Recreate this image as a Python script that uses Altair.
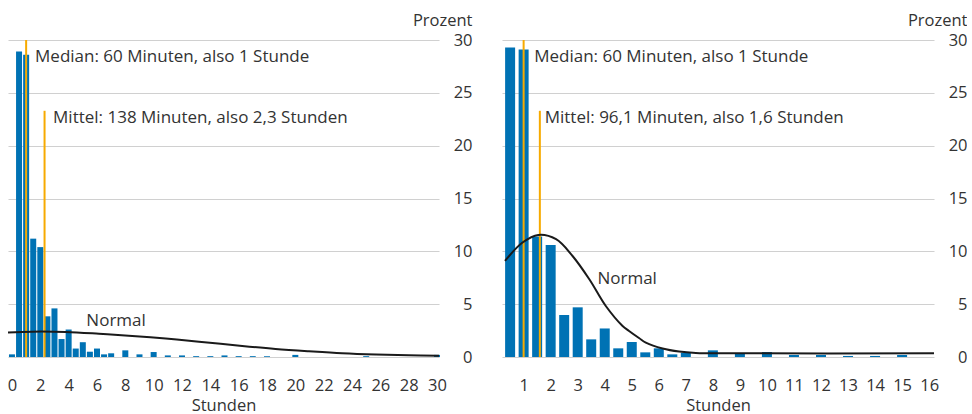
import altair as alt
import pandas as pd

# ---------------- data ----------------
# left panel: hours (bin centres) and percent
left_hours = [0, 0.5, 1, 1.5, 2, 2.5, 3, 3.5, 4, 4.5, 5, 5.5, 6, 6.5, 7,
              8, 9, 10, 11, 12, 13, 14, 15, 16, 17, 18, 20, 25, 30]
left_pct = [0.25, 28.9, 28.6, 11.2, 10.4, 3.85, 4.6, 1.7, 2.6, 0.8, 1.4, 0.5, 0.8, 0.25, 0.35,
            0.63, 0.25, 0.47, 0.15, 0.15, 0.08, 0.08, 0.15, 0.08, 0.08, 0.08, 0.2, 0.08, 0.2]
left_curve_h = [-0.28, 1.43, 3.79, 6.14, 8.49, 10.85, 13.2, 16.25, 18.6, 20.96, 23.3, 25.7, 28.0, 30.14]
left_curve_v = [2.33, 2.4, 2.37, 2.2, 1.99, 1.74, 1.45, 1.04, 0.76, 0.54, 0.35, 0.23, 0.16, 0.13]
left_rule_h = [1.0, 2.3]
left_rule_top = [30, 23.3]
left_text = ["Median: 60 Minuten, also 1 Stunde", "Mittel: 138 Minuten, also 2,3 Stunden", "Normal"]
left_text_h = [1.63, 2.9, 5.25]
left_text_v = [27.9, 22.1, 2.94]
left_ticks = [0, 2, 4, 6, 8, 10, 12, 14, 16, 18, 20, 22, 24, 26, 28, 30]

# right panel
right_hours = [0.5, 1, 1.5, 2, 2.5, 3, 3.5, 4, 4.5, 5, 5.5, 6, 6.5, 7,
               8, 9, 10, 11, 12, 13, 14, 15]
right_pct = [29.3, 29.1, 11.4, 10.6, 3.98, 4.7, 1.67, 2.7, 0.82, 1.42, 0.44, 0.82, 0.25, 0.4,
             0.63, 0.35, 0.47, 0.19, 0.19, 0.1, 0.1, 0.19]
right_curve_h = [0.31, 0.96, 1.54, 2.2, 2.81, 3.43, 4.04, 4.66, 4.9, 5.28, 5.52, 6.14, 6.75, 7.37, 8.6, 16.18]
right_curve_v = [9.09, 10.83, 11.55, 11.15, 9.56, 7.36, 4.83, 2.94, 2.46, 1.77, 1.36, 0.8, 0.51, 0.38, 0.35, 0.35]
right_rule_h = [1.0, 1.6]
right_rule_top = [30, 23.3]
right_text = ["Median: 60 Minuten, also 1 Stunde", "Mittel: 96,1 Minuten, also 1,6 Stunden", "Normal"]
right_text_h = [1.39, 1.78, 3.73]
right_text_v = [27.9, 22.1, 6.95]
right_ticks = list(range(1, 17))

y_ticks = [0, 5, 10, 15, 20, 25, 30]

# ---------------- styling ----------------
FONT = "Open Sans"
BLUE = "#0072b4"
ORANGE = "#f7aa00"
TEXT = "#333333"


def panel(hours, pct, ch, cv, rh, rtop, texts, th, tv, domain, ticks, width, bar_size):
    bars_df = pd.DataFrame({"h": hours, "p": pct})
    curve_df = pd.DataFrame({"h": ch, "p": cv})
    rule_df = pd.DataFrame({"h": rh, "p": rtop})
    text_df = pd.DataFrame({"h": th, "p": tv, "t": texts})

    x = alt.X("h:Q",
              scale=alt.Scale(domain=domain, nice=False, zero=False, padding=0),
              axis=alt.Axis(values=ticks, title="Stunden", grid=False, domain=False,
                            ticks=False, tickSize=0, labelPadding=20, titlePadding=4,
                            labelFlush=False, labelOverlap=False, format="d"))
    y = alt.Y("p:Q",
              scale=alt.Scale(domain=[0, 30], nice=False, padding=0),
              axis=alt.Axis(orient="right", values=y_ticks, grid=True, domain=False,
                            ticks=False, tickSize=0, labelAlign="right", labelPadding=33,
                            labelFlush=False, labelOverlap=False,
                            title="Prozent", titleAngle=0, titleX=33, titleY=-14.5,
                            titleAlign="right", titleBaseline="alphabetic"))

    bars = alt.Chart(bars_df).mark_bar(size=bar_size, color=BLUE).encode(x=x, y=y)
    rules = alt.Chart(rule_df).mark_rule(color=ORANGE, strokeWidth=2).encode(
        x=x, y=y, y2=alt.datum(0))
    curve = alt.Chart(curve_df).mark_line(color="#1a1a1a", strokeWidth=2,
                                          interpolate="catmull-rom").encode(x=x, y=y)
    labels = alt.Chart(text_df).mark_text(align="left", baseline="alphabetic", font=FONT,
                                          fontSize=17, color=TEXT).encode(
        x=x, y=y, text="t:N")
    return alt.layer(bars, rules, curve, labels).properties(width=width, height=317)


left = panel(left_hours, left_pct, left_curve_h, left_curve_v, left_rule_h, left_rule_top,
             left_text, left_text_h, left_text_v, [-0.28, 30.14], left_ticks, 431, 6)
right = panel(right_hours, right_pct, right_curve_h, right_curve_v, right_rule_h, right_rule_top,
              right_text, right_text_h, right_text_v, [0.2, 16.18], right_ticks, 432, 10)

chart = alt.hconcat(left, right, spacing=63, bounds="flush").properties(
    padding={"left": 4, "top": 12, "right": 0, "bottom": 8}
).configure_view(stroke=None).configure_axis(
    labelFont=FONT, titleFont=FONT, labelFontSize=16.5, titleFontSize=16.5,
    labelColor=TEXT, titleColor=TEXT, titleFontWeight="normal",
    gridColor="#d0d0d0", gridWidth=1.2
).configure_axisX(labelOverlap=False)

chart.save("out.html", embed_options={"renderer": "svg", "actions": False})
